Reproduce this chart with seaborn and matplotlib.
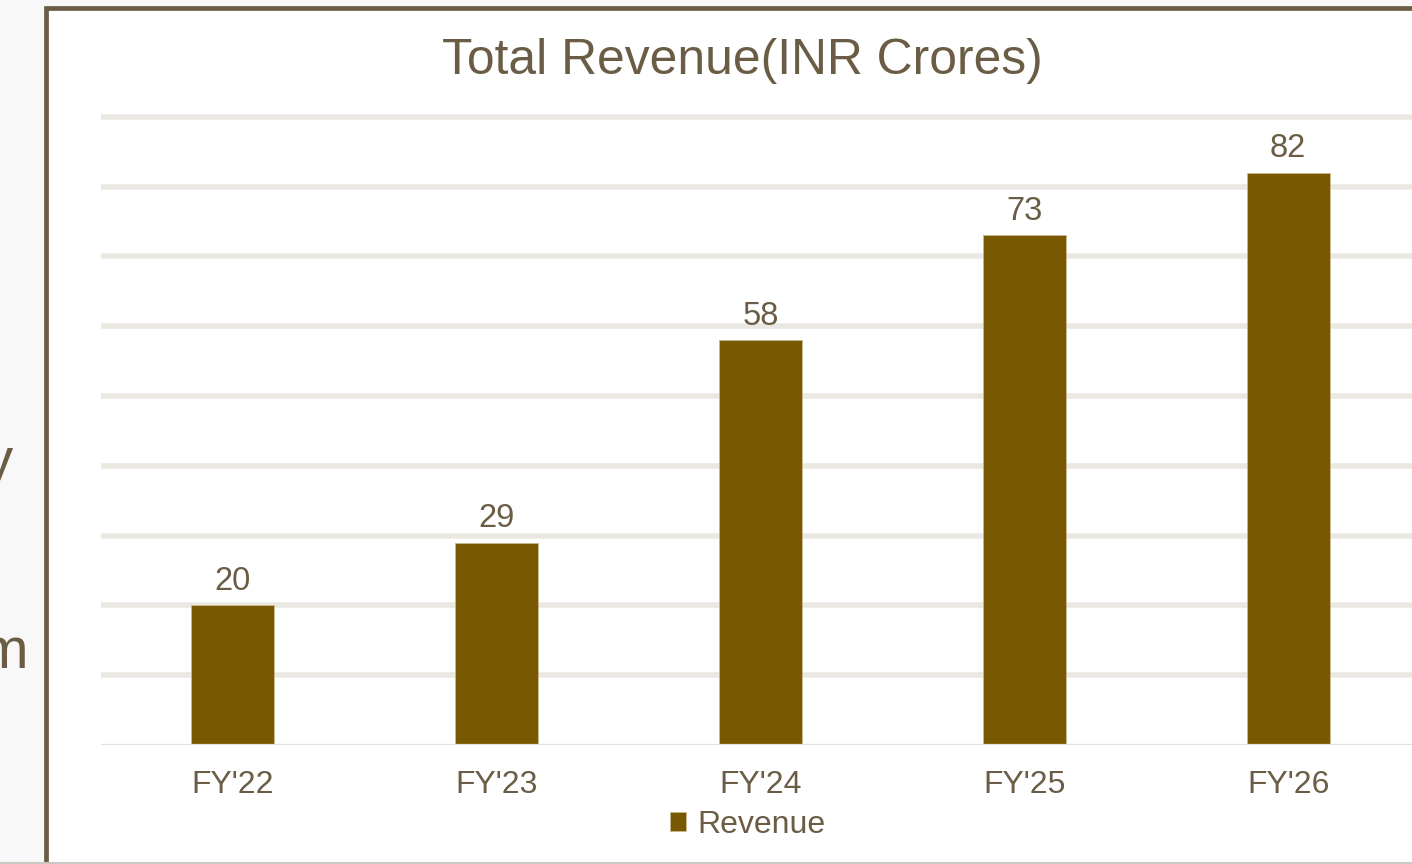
import matplotlib
matplotlib.use("Agg")
import matplotlib.pyplot as plt
import seaborn as sns
import pandas as pd
from matplotlib.patches import Rectangle
from matplotlib.lines import Line2D

categories = ["FY'22", "FY'23", "FY'24", "FY'25", "FY'26"]
revenue = [20, 29, 58, 73, 82]
series_name = "Revenue"
title = "Total Revenue(INR Crores)"
yticks = [0, 10, 20, 30, 40, 50, 60, 70, 80, 90]

BAR = "#785800"
TXT = "#6b5d45"
GRID = "#ebe8e2"

sns.set_theme(style="white")
plt.rcParams["font.family"] = ["Liberation Sans", "DejaVu Sans"]

W, H = 1412, 864
fig = plt.figure(figsize=(W / 100, H / 100), dpi=100)
fig.patch.set_facecolor("#f8f8f8")

# slide frame
frame = Rectangle((46 / W, -0.2), 1.5, (H - 8) / H + 0.2, transform=fig.transFigure,
                  facecolor="white", edgecolor=TXT, linewidth=3.4, zorder=0)
fig.add_artist(frame)
fig.add_artist(Line2D([0, 1], [0.8 / H, 0.8 / H], transform=fig.transFigure,
                      color="#c9c8c3", linewidth=1.5))

# stray clipped slide text at left (clipped in the source too)
fig.text(13 / W, 1 - 478 / H, "y", ha="right", va="baseline", fontsize=42, color=TXT)
fig.text(28 / W, 1 - 668 / H, "m", ha="right", va="baseline", fontsize=42, color=TXT)

ppu = 6.98
ytop = 93
ax = fig.add_axes([101 / W, (H - 745) / H, (1420 - 101) / W, ytop * ppu / H])
ax.set_facecolor("none")

df = pd.DataFrame({"Year": categories, series_name: revenue})
sns.barplot(data=df, x="Year", y=series_name, color=BAR, width=0.314,
            saturation=1, ax=ax, label=series_name, zorder=3,
            edgecolor="#c9b98e", linewidth=0.6)

ax.set_xlim(-0.5, 4.5)
ax.set_ylim(0, ytop)
ax.set_yticks(yticks)
ax.set_yticklabels([])
for v in yticks[1:]:
    ax.axhline(v, color=GRID, linewidth=4, zorder=1)
ax.axhline(0, color="#e2dfd9", linewidth=1.6, zorder=4)
for s in ax.spines.values():
    s.set_visible(False)
ax.tick_params(axis="both", length=0)
ax.tick_params(axis="x", pad=18, labelsize=23, labelcolor=TXT)
ax.set_xlabel("")
ax.set_ylabel("")

for c in ax.containers:
    ax.bar_label(c, labels=[str(v) for v in revenue], padding=6, fontsize=23.5, color=TXT)

fig.text(742 / W, 1 - 61 / H, title, ha="center", va="center", fontsize=35.8, color=TXT)

leg = ax.get_legend()
if leg is not None:
    leg.remove()
handles, labels = ax.get_legend_handles_labels()
fig.legend(handles[:1], labels[:1], loc="center", bbox_to_anchor=(748 / W, 1 - 825 / H),
           frameon=False, fontsize=23, labelcolor=TXT, handlelength=0.5, handleheight=0.55,
           handletextpad=0.35, borderpad=0)

fig.savefig("out.png", dpi=100, facecolor=fig.get_facecolor())
